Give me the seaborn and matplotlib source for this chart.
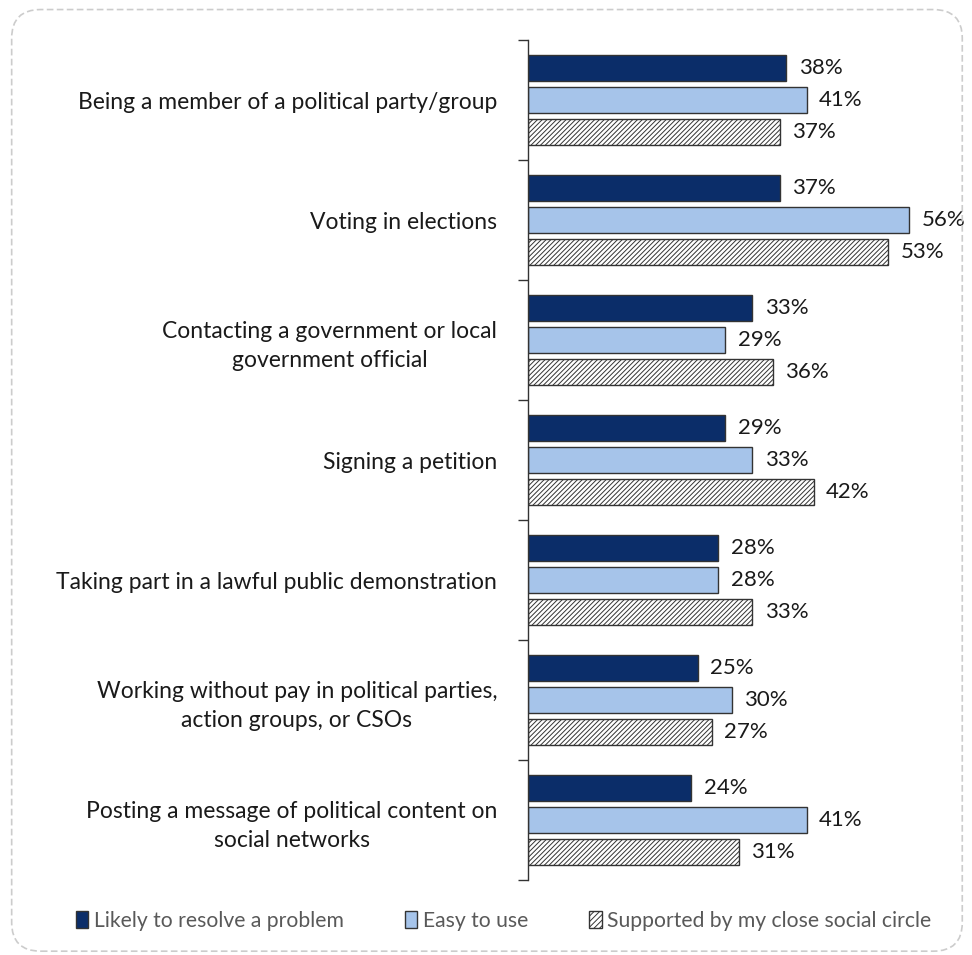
import matplotlib
matplotlib.use("Agg")
import matplotlib.pyplot as plt
from matplotlib.patches import FancyBboxPatch, Patch
import seaborn as sns
import pandas as pd

categories = [
    "Being a member of a political party/group",
    "Voting in elections",
    "Contacting a government or local\ngovernment official",
    "Signing a petition",
    "Taking part in a lawful public demonstration",
    "Working without pay in political parties,\naction groups, or CSOs",
    "Posting a message of political content on\nsocial networks",
]
series = ["Likely to resolve a problem", "Easy to use", "Supported by my close social circle"]
likely = [38, 37, 33, 29, 28, 25, 24]
easy = [41, 56, 29, 33, 28, 30, 41]
supported = [37, 53, 36, 42, 33, 27, 31]

rows = []
for name, vals in zip(series, [likely, easy, supported]):
    for cat, v in zip(categories, vals):
        rows.append({"category": cat, "series": name, "value": v})
df = pd.DataFrame(rows)

sns.set_theme(style="white")
plt.rcParams["font.family"] = ["Lato", "DejaVu Sans"]
plt.rcParams["hatch.linewidth"] = 0.7
plt.rcParams["hatch.color"] = "#222222"

navy = "#0b2d69"
light = "#a6c4ea"
palette = {series[0]: navy, series[1]: light, series[2]: "white"}

fig = plt.figure(figsize=(9.72, 9.55), dpi=100)
ax = fig.add_axes([0.543, 0.0785, 0.42, 0.8795])

sns.barplot(data=df, y="category", x="value", hue="series", palette=palette,
            order=categories, hue_order=series, orient="h", width=0.8, gap=0.2,
            edgecolor="#333333", linewidth=1.0, saturation=1, legend=False, ax=ax)

for bar in ax.containers[2]:
    bar.set_hatch("///////")

for cont in ax.containers:
    ax.bar_label(cont, labels=[f"{int(round(b.get_width()))}%" for b in cont],
                 padding=9, fontsize=16, color="#1a1a1a")

ax.set_xlim(0, 60)
ax.set_ylim(len(categories) - 0.5, -0.5)
ax.set_xlabel("")
ax.set_ylabel("")
ax.set_xticks([])
for s in ["top", "right", "bottom"]:
    ax.spines[s].set_visible(False)
ax.spines["left"].set_color("#333333")
ax.spines["left"].set_linewidth(1.0)

ax.set_yticks(range(len(categories)))
ax.set_yticklabels(categories, fontsize=16.5, color="#1a1a1a", ha="right",
                   multialignment="center", linespacing=1.45)
ax.tick_params(axis="y", which="major", length=0, pad=22)
ax.set_yticks([i - 0.5 for i in range(len(categories) + 1)], minor=True)
ax.tick_params(axis="y", which="minor", length=7, width=1.0, color="#333333", left=True)

handles = [
    Patch(facecolor=navy, edgecolor="#333333", linewidth=1.0),
    Patch(facecolor=light, edgecolor="#333333", linewidth=1.0),
    Patch(facecolor="white", edgecolor="#333333", linewidth=1.0, hatch="//////"),
]
fig.legend(handles, series, loc="center", bbox_to_anchor=(0.518, 0.036), ncol=3,
           frameon=False, fontsize=15.2, labelcolor="#595959",
           handlelength=0.6, handleheight=0.9, handletextpad=0.25, columnspacing=2.9)

border = FancyBboxPatch((0.012, 0.004), 0.978, 0.986, transform=fig.transFigure,
                        boxstyle="round,pad=0,rounding_size=0.03", facecolor="none",
                        edgecolor="#cccccc", linewidth=1.2, linestyle=(0, (4, 2)))
fig.patches.append(border)

fig.savefig("out.png", dpi=100)
